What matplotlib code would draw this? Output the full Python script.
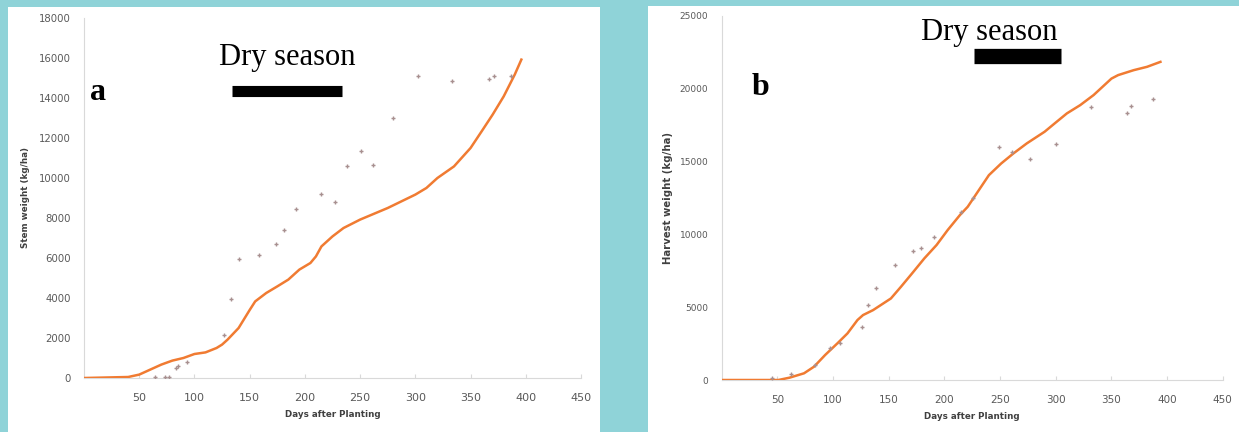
import matplotlib
matplotlib.use("Agg")
import matplotlib.pyplot as plt
from matplotlib.patches import Rectangle

# ---- data ----
days_a_line = [0, 40, 50, 60, 70, 80, 90, 100, 110, 120, 125, 130, 140, 150, 155, 165, 175, 185, 195,
               205, 210, 215, 225, 235, 250, 275, 300, 310, 320, 335, 350, 360, 370, 380, 390, 396]
stem_line = [0, 50, 170, 420, 670, 870, 1000, 1200, 1280, 1500, 1670, 1920, 2500, 3400, 3830, 4250,
             4580, 4920, 5420, 5750, 6080, 6580, 7080, 7500, 7920, 8500, 9170, 9500, 10000, 10580,
             11500, 12330, 13170, 14080, 15170, 15920]
days_a_obs = [64, 73, 77, 83, 85, 93, 127, 133, 140, 158, 174, 181, 192, 215, 227, 238, 251, 262,
              280, 302, 333, 367, 371, 387]
stem_obs = [50, 50, 50, 500, 580, 800, 2130, 3950, 5930, 6150, 6700, 7380, 8470, 9220, 8800, 10580,
            11370, 10650, 13020, 15080, 14870, 14970, 15120, 15100]

days_b_line = [0, 51, 61, 74, 83, 93, 104, 113, 122, 127, 136, 143, 152, 161, 171, 182, 193, 203,
               214, 221, 230, 240, 251, 262, 274, 290, 299, 310, 322, 334, 350, 356, 370, 382, 394]
harvest_line = [0, 0, 160, 460, 915, 1720, 2520, 3200, 4120, 4460, 4800, 5150, 5600, 6400, 7320,
                8350, 9270, 10300, 11330, 11900, 12930, 14070, 14870, 15560, 16250, 17050, 17620,
                18310, 18880, 19570, 20700, 20940, 21280, 21510, 21850]
days_b_obs = [45, 62, 84, 97, 106, 126, 131, 139, 156, 172, 179, 191, 215, 226, 249, 261, 277, 300,
              332, 364, 368, 387]
harvest_obs = [160, 390, 1030, 2220, 2520, 3620, 5150, 6290, 7900, 8880, 9040, 9840, 11560, 12520,
               16020, 15680, 15170, 16200, 18720, 18350, 18810, 19270]

dry_a = [134, 234]
dry_b = [227, 305]
xticks = [50, 100, 150, 200, 250, 300, 350, 400, 450]
yticks_a = list(range(0, 18001, 2000))
yticks_b = list(range(0, 25001, 5000))

W, H = 1239, 432
fig = plt.figure(figsize=(W / 100, H / 100), dpi=100)
fig.patch.set_facecolor("#8fd3d8")

# white panels
fig.patches.append(Rectangle((8 / W, 0), (600 - 8) / W, 1 - 7 / H, transform=fig.transFigure,
                             facecolor="white", edgecolor="none", zorder=-5))
fig.patches.append(Rectangle((648 / W, 0), (W - 648) / W, 1 - 6 / H, transform=fig.transFigure,
                             facecolor="white", edgecolor="none", zorder=-5))

line_col = "#f07b32"
mk_col = "#a89090"
spine_col = "#d9d9d9"
tick_col = "#595959"


def style(ax, yticks, ylim, ysize, xsize):
    ax.set_facecolor("none")
    ax.set_xlim(0, 450)
    ax.set_ylim(*ylim)
    ax.set_xticks(xticks)
    ax.set_yticks(yticks)
    for s in ["top", "right"]:
        ax.spines[s].set_visible(False)
    for s in ["left", "bottom"]:
        ax.spines[s].set_color(spine_col)
        ax.spines[s].set_linewidth(0.8)
    ax.tick_params(axis="x", colors=spine_col, labelcolor=tick_col, labelsize=xsize, length=3,
                   direction="in", pad=11)
    ax.tick_params(axis="y", colors=spine_col, labelcolor=tick_col, labelsize=ysize, length=0, pad=9.5)


# ---- panel a ----
axa = fig.add_axes([84 / W, 1 - 378 / H, 497 / W, 360 / H])
axa.plot(days_a_line, stem_line, color=line_col, lw=1.8, zorder=3)
axa.plot(days_a_obs, stem_obs, ls="none", marker="+", ms=3.5, mew=1, color=mk_col, zorder=4)
style(axa, yticks_a, (0, 18000), 7.3, 8)
axa.set_xlabel("Days after Planting", fontsize=6.3, fontweight="bold", color="#404040", labelpad=5)
axa.set_ylabel("Stem weight (kg/ha)", fontsize=6.3, fontweight="bold", color="#404040", labelpad=6)
axa.plot(dry_a, [14350, 14350], color="black", lw=8, solid_capstyle="butt", zorder=5)
axa.text(sum(dry_a) / 2, 15650, "Dry season", family="Liberation Serif", fontsize=22,
         ha="center", va="baseline")
axa.text(13, 14300, "a", family="Liberation Serif", fontweight="bold", fontsize=23,
         ha="center", va="center")

# ---- panel b ----
axb = fig.add_axes([721.6 / W, 1 - 380 / H, 501.2 / W, 364 / H])
axb.plot(days_b_line, harvest_line, color=line_col, lw=1.8, zorder=3)
axb.plot(days_b_obs, harvest_obs, ls="none", marker="+", ms=3.5, mew=1, color=mk_col, zorder=4)
style(axb, yticks_b, (0, 25000), 6.5, 7.5)
axb.set_xlabel("Days after Planting", fontsize=6.3, fontweight="bold", color="#404040", labelpad=5)
axb.set_ylabel("Harvest weight (kg/ha)", fontsize=7.3, fontweight="bold", color="#404040", labelpad=5)
axb.plot(dry_b, [22250, 22250], color="black", lw=11, solid_capstyle="butt", zorder=5)
axb.text(240, 23350, "Dry season", family="Liberation Serif", fontsize=22,
         ha="center", va="baseline")
axb.text(35, 20100, "b", family="Liberation Serif", fontweight="bold", fontsize=23,
         ha="center", va="center")

fig.savefig("out.png", dpi=100, facecolor=fig.get_facecolor())
